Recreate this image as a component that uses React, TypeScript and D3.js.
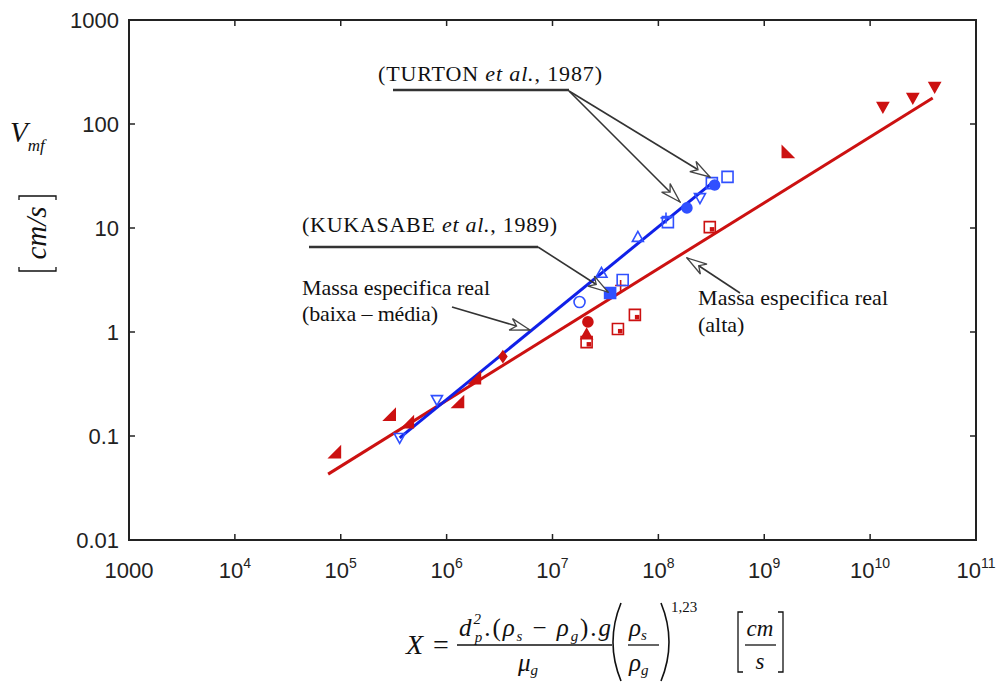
import React from 'react';
import * as d3 from 'd3';

const W = 1003;
const H = 682;
const margin = { left: 129, top: 20, right: 27, bottom: 142 };

// axis ticks
const xTickValues = [1e3, 1e4, 1e5, 1e6, 1e7, 1e8, 1e9, 1e10, 1e11];
const xTickExponents = [0, 4, 5, 6, 7, 8, 9, 10, 11];
const yTickValues = [0.01, 0.1, 1, 10, 100, 1000];
const yTickLabels = ['0.01', '0.1', '1', '10', '100', '1000'];

// massa especifica real (alta) - red
const redX = [8.8e4, 2.9e5, 4.3e5, 1.28e6, 1.85e6, 3.4e6, 2.16e7, 2.1e7, 2.1e7, 4.15e7, 6.0e7, 4.4e7, 3.06e8, 1.67e9, 1.32e10, 2.53e10, 4.07e10];
const redY = [0.07, 0.16, 0.136, 0.212, 0.36, 0.58, 1.25, 0.95, 0.8, 1.07, 1.46, 2.8, 10.2, 54, 146, 178, 227];
const redShape = ['triBR', 'triBR', 'triBR', 'triBR', 'triBR', 'diamond', 'circle', 'triUp', 'sqrIn', 'sqrIn', 'sqrIn', 'plus', 'sqrIn', 'triBL', 'triDown', 'triDown', 'triDown'];

// massa especifica real (baixa - media) - blue
const blueX = [3.6e5, 8.1e5, 1.8e7, 2.9e7, 3.5e7, 4.6e7, 6.4e7, 1.23e8, 1.18e8, 1.86e8, 2.47e8, 3.4e8, 3.2e8, 4.5e8];
const blueY = [0.096, 0.222, 1.94, 3.7, 2.37, 3.16, 8.2, 11.4, 12.5, 15.6, 19.4, 25.9, 27, 31];
const blueShape = ['triDownO', 'triDownO', 'circleO', 'triUpO', 'squareF', 'squareO', 'triUpO', 'squareO', 'plus', 'circleF', 'triDownO', 'circleF', 'squareO', 'squareO'];

// fitted lines
const redFitX = [7.6e4, 3.9e10];
const redFitY = [0.043, 178];
const blueFitX = [3.6e5, 3.2e8];
const blueFitY = [0.096, 27];

const RED = '#cc1111';
const BLUE_LINE = '#1020e8';
const BLUE = '#3050ff';
const SERIF = '"Liberation Serif", "Times New Roman", serif';
const SANS = '"Liberation Sans", Arial, Helvetica, sans-serif';

const markerPath = (shape: string, r: number) => {
  switch (shape) {
    case 'triBR': return `M${r},${-r}L${r},${r}L${-r},${r}Z`;
    case 'triBL': return `M${-r},${-r}L${-r},${r}L${r},${r}Z`;
    case 'triDown':
    case 'triDownO': return `M${-r},${-r * 0.8}L${r},${-r * 0.8}L0,${r}Z`;
    case 'triUp':
    case 'triUpO': return `M${-r},${r * 0.8}L${r},${r * 0.8}L0,${-r}Z`;
    case 'diamond': return `M0,${-r}L${r * 0.7},0L0,${r}L${-r * 0.7},0Z`;
    case 'plus': return `M${-r},0L${r},0M0,${-r}L0,${r}`;
    case 'square':
    case 'squareO':
    case 'squareF':
    case 'sqrIn': return `M${-r},${-r}L${r},${-r}L${r},${r}L${-r},${r}Z`;
    default: return d3.symbol(d3.symbolCircle, Math.PI * r * r)() || '';
  }
};

const Marker = ({ x, y, shape, color }: { x: number; y: number; shape: string; color: string }) => {
  const open = shape.endsWith('O') || shape === 'sqrIn' || shape === 'plus';
  const r = shape === 'circle' || shape === 'circleF' ? 5 : 5.5;
  return (
    <g transform={`translate(${x},${y})`}>
      <path d={markerPath(shape, r)} fill={open ? 'none' : color} stroke={color} strokeWidth={1.6} />
      {shape === 'sqrIn' && <path d={`M0,0L${r - 1},0L${r - 1},${r - 1}L0,${r - 1}Z`} fill={color} />}
    </g>
  );
};

const App = () => {
  const x = d3.scaleLog().domain([1e3, 1e11]).range([margin.left, W - margin.right]);
  const y = d3.scaleLog().domain([0.01, 1000]).range([H - margin.bottom, margin.top]);
  const line = d3.line<[number, number]>().x(d => x(d[0])).y(d => y(d[1]));

  const x0 = margin.left;
  const x1 = W - margin.right;
  const y0 = H - margin.bottom;
  const y1 = margin.top;

  return (
    <div style={{ position: 'absolute', left: 0, top: 0 }}>
      <svg width={W} height={H} style={{ display: 'block', background: '#fff' }}>
        <defs>
          <marker id="ah" viewBox="0 0 22 14" markerWidth={22} markerHeight={14} refX={21} refY={7}
            orient="auto" markerUnits="userSpaceOnUse">
            <path d="M1,1 L21,7 L1,13 L7,7 Z" fill="#fff" stroke="#444" strokeWidth={1.3} />
          </marker>
        </defs>

        {/* fit lines */}
        <path d={line(redFitX.map((v, i) => [v, redFitY[i]] as [number, number])) || ''} stroke={RED} strokeWidth={3} fill="none" />
        <path d={line(blueFitX.map((v, i) => [v, blueFitY[i]] as [number, number])) || ''} stroke={BLUE_LINE} strokeWidth={3} fill="none" />

        {/* points */}
        {redX.map((v, i) => <Marker key={'r' + i} x={x(v)} y={y(redY[i])} shape={redShape[i]} color={RED} />)}
        {blueX.map((v, i) => <Marker key={'b' + i} x={x(v)} y={y(blueY[i])} shape={blueShape[i]} color={BLUE} />)}

        {/* frame & ticks */}
        <rect x={x0} y={y1} width={x1 - x0} height={y0 - y1} fill="none" stroke="#222" strokeWidth={2} />
        {xTickValues.slice(1, -1).map(v => (
          <g key={'xt' + v}>
            <line x1={x(v)} x2={x(v)} y1={y0} y2={y0 - 6} stroke="#222" strokeWidth={1.5} />
            <line x1={x(v)} x2={x(v)} y1={y1} y2={y1 + 6} stroke="#222" strokeWidth={1.5} />
          </g>
        ))}
        {yTickValues.slice(1, -1).map(v => (
          <g key={'yt' + v}>
            <line x1={x0} x2={x0 + 6} y1={y(v)} y2={y(v)} stroke="#222" strokeWidth={1.5} />
            <line x1={x1} x2={x1 - 6} y1={y(v)} y2={y(v)} stroke="#222" strokeWidth={1.5} />
          </g>
        ))}

        {/* tick labels */}
        {xTickValues.map((v, i) => (
          <text key={'xl' + v} x={x(v)} y={578} textAnchor="middle" fontFamily={SANS} fontSize={22} fill="#222">
            {xTickExponents[i] === 0 ? '1000' : (
              <>10<tspan fontSize={14} dy={-10}>{xTickExponents[i]}</tspan></>
            )}
          </text>
        ))}
        {yTickValues.map((v, i) => (
          <text key={'yl' + v} x={119} y={y(v)} dy="0.36em" textAnchor="end" fontFamily={SANS} fontSize={22} fill="#222">
            {yTickLabels[i]}
          </text>
        ))}

        {/* y axis label */}
        <text x={10} y={142} fontFamily={SERIF} fontStyle="italic" fontSize={29} fill="#111">
          V<tspan fontSize={17} dy={9}>mf</tspan>
        </text>
        <g fill="none" stroke="#111" strokeWidth={1.3}>
          <path d="M19,200 L19,196 L56,196 L56,200" />
          <path d="M19,267 L19,271 L56,271 L56,267" />
        </g>
        <text transform="translate(46,233) rotate(-90)" textAnchor="middle" fontFamily={SERIF} fontStyle="italic" fontSize={29} fill="#111">
          cm/s
        </text>

        {/* annotations */}
        <g fontFamily={SERIF} fontSize={22} fill="#111">
          <text x={378} y={81} textLength={224} lengthAdjust="spacing">(TURTON <tspan fontStyle="italic">et al.</tspan>, 1987)</text>
          <text x={302} y={232} textLength={255} lengthAdjust="spacing">(KUKASABE <tspan fontStyle="italic">et al.</tspan>, 1989)</text>
          <text x={302} y={295} textLength={188} lengthAdjust="spacing">Massa especifica real</text>
          <text x={302} y={321} textLength={136} lengthAdjust="spacing">(baixa – média)</text>
          <text x={698} y={305} textLength={190} lengthAdjust="spacing">Massa especifica real</text>
          <text x={698} y={332}>(alta)</text>
        </g>
        <g stroke="#333" fill="none">
          <line x1={393} x2={569} y1={90} y2={90} strokeWidth={2.5} />
          <line x1={309} x2={538} y1={247} y2={247} strokeWidth={2.5} />
          <line x1={569} y1={91} x2={680} y2={202} strokeWidth={1.6} markerEnd="url(#ah)" />
          <line x1={569} y1={91} x2={710} y2={177} strokeWidth={1.6} markerEnd="url(#ah)" />
          <line x1={538} y1={247} x2={608} y2={292} strokeWidth={1.6} markerEnd="url(#ah)" />
          <line x1={452} y1={307} x2={530} y2={330} strokeWidth={1.6} markerEnd="url(#ah)" />
          <line x1={740} y1={293} x2={687} y2={258} strokeWidth={1.6} markerEnd="url(#ah)" />
        </g>

        {/* x axis label: formula */}
        <g fontFamily={SERIF} fill="#111">
          <text x={406} y={654} fontSize={28} fontStyle="italic">X</text>
          <text x={433} y={654} fontSize={28}>=</text>
          <text x={459} y={636} fontSize={25} fontStyle="italic" textLength={152} lengthAdjust="spacing">
            d
            <tspan fontSize={15} dy={-12}>2</tspan>
            <tspan fontSize={15} dx={-8} dy={18}>p</tspan>
            <tspan fontStyle="normal" dy={-6}>.(</tspan>
            <tspan>ρ</tspan>
            <tspan fontSize={15} dy={5}>s</tspan>
            <tspan fontStyle="normal" dy={-5}> − </tspan>
            <tspan>ρ</tspan>
            <tspan fontSize={15} dy={5}>g</tspan>
            <tspan fontStyle="normal" dy={-5}>).</tspan>
            <tspan>g</tspan>
          </text>
          <line x1={457} x2={612} y1={645} y2={645} stroke="#111" strokeWidth={1.3} />
          <text x={518} y={671} fontSize={25} fontStyle="italic">
            μ<tspan fontSize={15} dy={4}>g</tspan>
          </text>
          <path d="M621,603 Q605,642 621,681" fill="none" stroke="#111" strokeWidth={1.6} />
          <path d="M661,603 Q677,642 661,681" fill="none" stroke="#111" strokeWidth={1.6} />
          <text x={629} y={636} fontSize={25} fontStyle="italic">
            ρ<tspan fontSize={15} dy={4}>s</tspan>
          </text>
          <line x1={628} x2={659} y1={645} y2={645} stroke="#111" strokeWidth={1.3} />
          <text x={629} y={671} fontSize={25} fontStyle="italic">
            ρ<tspan fontSize={15} dy={4}>g</tspan>
          </text>
          <text x={671} y={612} fontSize={15}>1,23</text>
          <path d="M743,612 L738,612 L738,672 L743,672" fill="none" stroke="#111" strokeWidth={1.3} />
          <path d="M778,612 L783,612 L783,672 L778,672" fill="none" stroke="#111" strokeWidth={1.3} />
          <text x={760} y={636} textAnchor="middle" fontSize={23} fontStyle="italic">cm</text>
          <line x1={745} x2={776} y1={645} y2={645} stroke="#111" strokeWidth={1.3} />
          <text x={760} y={669} textAnchor="middle" fontSize={23} fontStyle="italic">s</text>
        </g>
      </svg>
    </div>
  );
};

export default App;
